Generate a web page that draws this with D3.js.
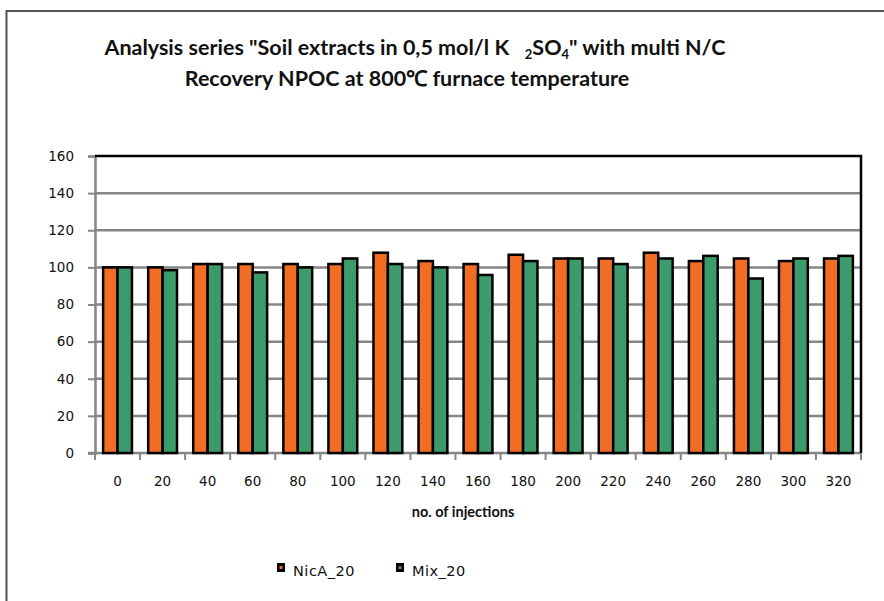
<!DOCTYPE html>
<html>
<head>
<meta charset="utf-8">
<script src="https://cdn.jsdelivr.net/npm/d3@7"></script>
<style>
  html, body { margin: 0; padding: 0; background: #fff; overflow: hidden; }
  svg { display: block; }
</style>
</head>
<body>
<div id="chart"></div>
<script>
// chart size
const width = 884;
const height = 601;
const margin = { top: 156, right: 23, bottom: 148, left: 95 };
const innerWidth = width - margin.left - margin.right;
const innerHeight = height - margin.top - margin.bottom;

// data
const injections = ["0", "20", "40", "60", "80", "100", "120", "140", "160", "180", "200", "220", "240", "260", "280", "300", "320"];
const nicA20 = [100, 100, 101.8, 101.8, 101.8, 101.8, 107.9, 103.4, 101.8, 106.8, 104.8, 104.8, 107.9, 103.4, 104.8, 103.4, 104.8];
const mix20 = [100, 98.5, 101.8, 97.3, 100, 104.8, 101.8, 100, 95.9, 103.4, 104.8, 101.8, 104.8, 106.2, 94, 104.8, 106.2];
const seriesNames = ["NicA_20", "Mix_20"];
const seriesColors = ["#f26d24", "#3c9a6b"];
const yTicks = [0, 20, 40, 60, 80, 100, 120, 140, 160];

const rows = injections.map((d, i) => ({ label: d, values: [nicA20[i], mix20[i]] }));

const svg = d3.select('#chart')
  .append('svg')
  .attr('width', width)
  .attr('height', height);

// outer chart frame
svg.append('path')
  .attr('d', `M6.5,${height} V11 H${width}`)
  .style('fill', 'none')
  .style('stroke', '#555')
  .style('stroke-width', 2);

// titles
const title = svg.append('text')
  .attr('x', 415)
  .attr('y', 55)
  .attr('text-anchor', 'middle')
  .style('font-family', 'Lato, sans-serif')
  .style('font-weight', 'bold')
  .style('font-size', '21.5px')
  .style('fill', '#111');
title.append('tspan').text('Analysis series "Soil extracts in 0,5 mol/l K\u00a0\u00a0\u00a0');
title.append('tspan').attr('dy', 4).style('font-size', '13px').text('2');
title.append('tspan').attr('dy', -4).text('SO');
title.append('tspan').attr('dy', 4).style('font-size', '13px').text('4');
title.append('tspan').attr('dy', -4).text('" with multi N/C');

svg.append('text')
  .attr('x', 407)
  .attr('y', 86)
  .attr('text-anchor', 'middle')
  .style('font-family', 'Lato, sans-serif')
  .style('font-weight', 'bold')
  .style('font-size', '21.5px')
  .style('fill', '#111')
  .text('Recovery NPOC at 800\u2103 furnace temperature');

const g = svg.append('g')
  .attr('transform', `translate(${margin.left},${margin.top})`);

// scales
const xScale = d3.scaleBand()
  .domain(injections)
  .range([0, innerWidth])
  .paddingInner(0.36)
  .paddingOuter(0.18);

const xSub = d3.scaleBand()
  .domain(seriesNames)
  .range([0, xScale.bandwidth()]);

const yScale = d3.scaleLinear()
  .domain([0, 160])
  .range([innerHeight, 0]);

// gridlines
g.append('g')
  .selectAll('line')
  .data(yTicks.slice(1, -1))
  .enter()
  .append('line')
  .attr('x1', 0)
  .attr('x2', innerWidth)
  .attr('y1', d => yScale(d))
  .attr('y2', d => yScale(d))
  .style('stroke', '#868686')
  .style('stroke-width', 2.5);

// y axis
const yAxis = g.append('g')
  .call(d3.axisLeft(yScale).tickValues(yTicks).tickSize(7).tickPadding(14));
yAxis.select('.domain').style('stroke', '#868686').style('stroke-width', 2.5);
yAxis.selectAll('.tick line').style('stroke', '#868686').style('stroke-width', 2);
yAxis.selectAll('.tick text')
  .style('font-family', '"DejaVu Sans", sans-serif')
  .style('font-size', '13.5px')
  .style('fill', '#111');

// x axis: ticks sit on category boundaries
const step = xScale.step();
const xAxis = g.append('g')
  .attr('transform', `translate(0,${innerHeight})`);
xAxis.append('line')
  .attr('x1', -7)
  .attr('x2', innerWidth)
  .style('stroke', '#868686')
  .style('stroke-width', 2.5);
xAxis.selectAll('.xtick')
  .data(d3.range(injections.length + 1))
  .enter()
  .append('line')
  .attr('class', 'xtick')
  .attr('x1', i => i * step)
  .attr('x2', i => i * step)
  .attr('y1', 0)
  .attr('y2', 7)
  .style('stroke', '#868686')
  .style('stroke-width', 2);
xAxis.selectAll('.xlabel')
  .data(injections)
  .enter()
  .append('text')
  .attr('class', 'xlabel')
  .attr('x', d => xScale(d) + xScale.bandwidth() / 2)
  .attr('y', 33)
  .attr('text-anchor', 'middle')
  .style('font-family', '"DejaVu Sans", sans-serif')
  .style('font-size', '13.5px')
  .style('fill', '#111')
  .text(d => d);

// bars
g.selectAll('.group')
  .data(rows)
  .enter()
  .append('g')
  .attr('class', 'group')
  .attr('transform', d => `translate(${xScale(d.label)},0)`)
  .selectAll('rect')
  .data(d => d.values.map((v, k) => ({ key: seriesNames[k], value: v, color: seriesColors[k] })))
  .enter()
  .append('rect')
  .attr('x', d => xSub(d.key))
  .attr('width', xSub.bandwidth())
  .attr('y', d => yScale(d.value))
  .attr('height', d => innerHeight - yScale(d.value))
  .style('fill', d => d.color)
  .style('stroke', '#000')
  .style('stroke-width', 2.5);

// plot border top and right
g.append('path')
  .attr('d', `M0,0 H${innerWidth} V${innerHeight}`)
  .style('fill', 'none')
  .style('stroke', '#000')
  .style('stroke-width', 2.5);

// x axis title
svg.append('text')
  .attr('x', 463)
  .attr('y', 517)
  .attr('text-anchor', 'middle')
  .style('font-family', 'Lato, sans-serif')
  .style('font-weight', 'bold')
  .style('font-size', '14.5px')
  .style('fill', '#111')
  .text('no. of injections');

// legend
const legendX = [277, 396];
const legend = svg.selectAll('.legend')
  .data(seriesNames)
  .enter()
  .append('g')
  .attr('class', 'legend')
  .attr('transform', (d, i) => `translate(${legendX[i]},563)`);
legend.append('rect')
  .attr('width', 8)
  .attr('height', 9)
  .style('fill', '#000');
legend.append('rect')
  .attr('x', 2.5)
  .attr('y', 3)
  .attr('width', 3)
  .attr('height', 3)
  .style('fill', (d, i) => seriesColors[i]);
legend.append('text')
  .attr('x', 16)
  .attr('y', 13)
  .style('font-family', '"DejaVu Sans", sans-serif')
  .style('font-size', '14.5px')
  .style('letter-spacing', '0.5px')
  .style('fill', '#111')
  .text(d => d);
</script>
</body>
</html>
